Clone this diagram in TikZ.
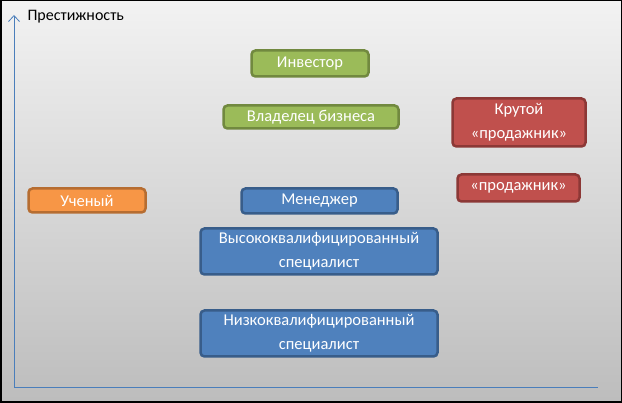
\documentclass[tikz,border=0pt]{standalone}
\usepackage{fontspec}
\setmainfont{Carlito}
\usetikzlibrary{arrows.meta}
\definecolor{greenfill}{HTML}{9BBB59}
\definecolor{greenline}{HTML}{71893F}
\definecolor{bluefill}{HTML}{4F81BD}
\definecolor{blueline}{HTML}{385D8A}
\definecolor{redfill}{HTML}{C0504D}
\definecolor{redline}{HTML}{8C3836}
\definecolor{orangefill}{HTML}{F79646}
\definecolor{orangeline}{HTML}{B66D31}
\definecolor{axisblue}{HTML}{4A7EBB}
\tikzset{
  rolebox/.style={rounded corners=4pt, line width=2.5pt, text=white, align=center,
    inner sep=0pt, font=\fontsize{16.5}{24}\selectfont},
  greenbox/.style={rolebox, fill=greenfill, draw=greenline},
  bluebox/.style={rolebox, fill=bluefill, draw=blueline},
  redbox/.style={rolebox, fill=redfill, draw=redline},
  orangebox/.style={rolebox, fill=orangefill, draw=orangeline}
}
\begin{document}
\begin{tikzpicture}[x=1pt, y=-1pt]
			\shade[top color=black!5, bottom color=black!26] (0,0) rectangle (622,403);
			\draw[line width=1.5pt] (0.75,0.75) rectangle (621.25,402.25);
			\useasboundingbox (0,0) rectangle (622,403);
			
			\coordinate (o) at (14,387);
			\coordinate (ytop) at (14,15);
			\coordinate (xend) at (598,387);
			\draw[axisblue, line width=0.8pt, -{Straight Barb[length=6pt, width=11pt]}] (o) -- (ytop);
			\draw[axisblue, line width=0.8pt] (o) -- (xend);
			\node[anchor=west, font=\fontsize{16}{18}\selectfont] (prestige) at (24,17) {Престижность};
			
			\node[greenbox, minimum width=117pt, minimum height=26pt] (investor) at (310,63.5) {Инвестор};
			\node[greenbox, minimum width=175pt, minimum height=23pt] (owner) at (311,117) {Владелец бизнеса};
			
			\node[redbox, minimum width=133pt, minimum height=48pt] (topseller) at (519,122.5) {Крутой\\«продажник»};
			\node[redbox, minimum width=122pt, minimum height=27pt] (seller) at (518.5,188) {«продажник»};
			
			\node[orangebox, minimum width=117pt, minimum height=24pt] (scientist) at (87,200.5) {Ученый};
			
			\node[bluebox, minimum width=156pt, minimum height=25pt] (manager) at (319.5,201) {Менеджер};
			\node[bluebox, minimum width=237pt, minimum height=46pt] (highspec) at (319,251.5) {Высококвалифицированный\\специалист};
			\node[bluebox, minimum width=237pt, minimum height=46pt] (lowspec) at (319,333.5) {Низкоквалифицированный\\специалист};
\end{tikzpicture}
\end{document}
